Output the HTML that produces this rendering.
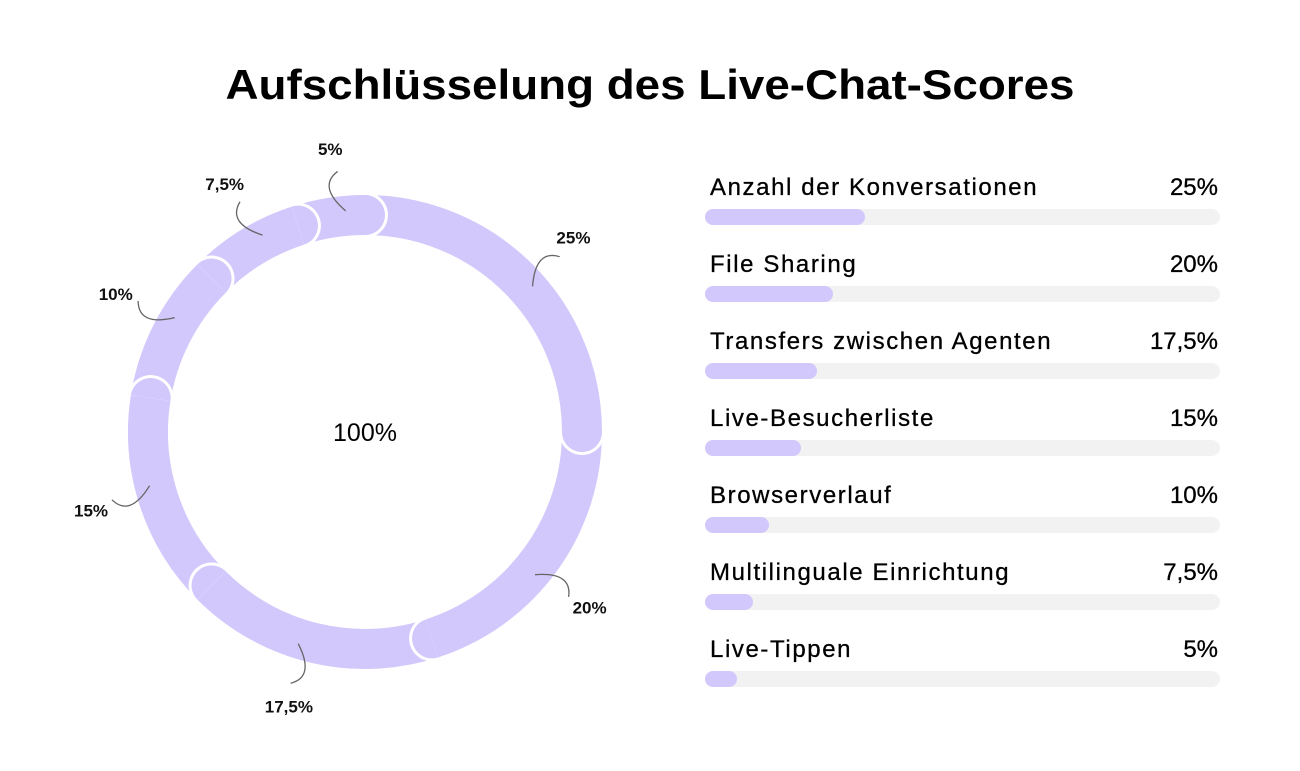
<!DOCTYPE html>
<html><head><meta charset="utf-8"><style>
html,body{margin:0;padding:0;background:#fff;width:1300px;height:771px;overflow:hidden}
svg{display:block;font-family:"Liberation Sans",sans-serif}
</style></head><body>
<svg id="chart" width="1300" height="771" viewBox="0 0 1300 771">
<text x="650" y="99" text-anchor="middle" font-size="42" font-weight="bold" fill="#000" textLength="849" lengthAdjust="spacingAndGlyphs">Aufschlüsselung des Live-Chat-Scores</text>
<g id="donut"></g>
<text x="365" y="441" text-anchor="middle" font-size="25" fill="#000">100%</text>
<g id="labels"></g>
<g id="bars"></g>
</svg>
<script>
const categories = ["Anzahl der Konversationen","File Sharing","Transfers zwischen Agenten","Live-Besucherliste","Browserverlauf","Multilinguale Einrichtung","Live-Tippen"];
const values = [25,20,17.5,15,10,7.5,5];
const valueLabels = ["25%","20%","17,5%","15%","10%","7,5%","5%"];

const NS="http://www.w3.org/2000/svg";
const cx=365, cy=432, R=217, W=40, FILL="#d2c8fc";
const total=values.reduce((a,b)=>a+b,0);
function pt(deg,r){const a=deg*Math.PI/180;return [cx+r*Math.sin(a), cy-r*Math.cos(a)];}
function arcPath(a0,a1,r){const p0=pt(a0,r),p1=pt(a1,r);const large=(a1-a0)>180?1:0;return `M${p0[0]},${p0[1]} A${r},${r} 0 ${large} 1 ${p1[0]},${p1[1]}`;}
function mk(tag,attrs,parent){const e=document.createElementNS(NS,tag);for(const k in attrs)e.setAttribute(k,attrs[k]);parent.appendChild(e);return e;}
function capPath(deg,r){
  const a=deg*Math.PI/180;
  const p=pt(deg,R), n=[Math.sin(a),-Math.cos(a)], t=[Math.cos(a),Math.sin(a)];
  let d='';
  for(let k=0;k<=24;k++){
    const th=Math.PI*k/24;
    const x=p[0]+r*(-Math.cos(th)*n[0]+Math.sin(th)*t[0]);
    const y=p[1]+r*(-Math.cos(th)*n[1]+Math.sin(th)*t[1]);
    d+=(k?'L':'M')+x.toFixed(2)+','+y.toFixed(2);
  }
  return d+'Z';
}
const donut=document.getElementById('donut');
const starts=[];let acc=0;
values.forEach(v=>{starts.push(acc);acc+=v;});
values.forEach((v,i)=>{
  const a0=starts[i]/total*360, a1=(starts[i]+v)/total*360;
  const p=mk('path',{d:arcPath(a0,a1,R),fill:'none',stroke:FILL,'stroke-width':W},donut);
  
  
});
values.forEach((v,i)=>{
  const a1=(starts[i]+v)/total*360;
  const g=mk('g',{},donut);
  
  
  mk('path',{d:capPath(a1,W/2+3),fill:'#fff'},g);
  mk('path',{d:capPath(a1,W/2),fill:FILL},g);
});

const labels=document.getElementById('labels');
values.forEach((v,i)=>{
  const mid=(starts[i]+v/2)/total*360;
  const p1=pt(mid+4,222), p2=pt(mid+3,262), pc=pt(mid-2,250);
  const path=mk('path',{d:`M${p1[0]},${p1[1]} Q${pc[0]},${pc[1]} ${p2[0]},${p2[1]}`,fill:'none',stroke:'#666','stroke-width':1.3},labels);
  
  
  const pl=pt(mid+2,285);
  const t=mk('text',{x:pl[0],y:pl[1]+6,'text-anchor':'middle','font-size':17,'font-weight':'bold',fill:'#111'},labels);
  t.textContent=valueLabels[i];
  
  
});

const bars=document.getElementById('bars');
const bx=705, bw=515, pxPer=6.4, y0=195, step=77;
categories.forEach((c,i)=>{
  const y=y0+i*step;
  const g=mk('g',{},bars);
  
  
  const t=mk('text',{x:710,y:y,'font-size':24,'letter-spacing':1.6,fill:'#000',stroke:'#000','stroke-width':0.3},g);t.textContent=c;
  
  
  const tv=mk('text',{x:1218,y:y,'text-anchor':'end','font-size':24,fill:'#000',stroke:'#000','stroke-width':0.3},g);tv.textContent=valueLabels[i];
  
  
  const tr=mk('rect',{x:bx,y:y+14,width:bw,height:16,rx:8,fill:'#f2f2f2'},g);
  
  
  const f=mk('rect',{x:bx,y:y+14,width:values[i]*pxPer,height:16,rx:8,fill:FILL},g);
  
  
});
</script>
</body></html>
